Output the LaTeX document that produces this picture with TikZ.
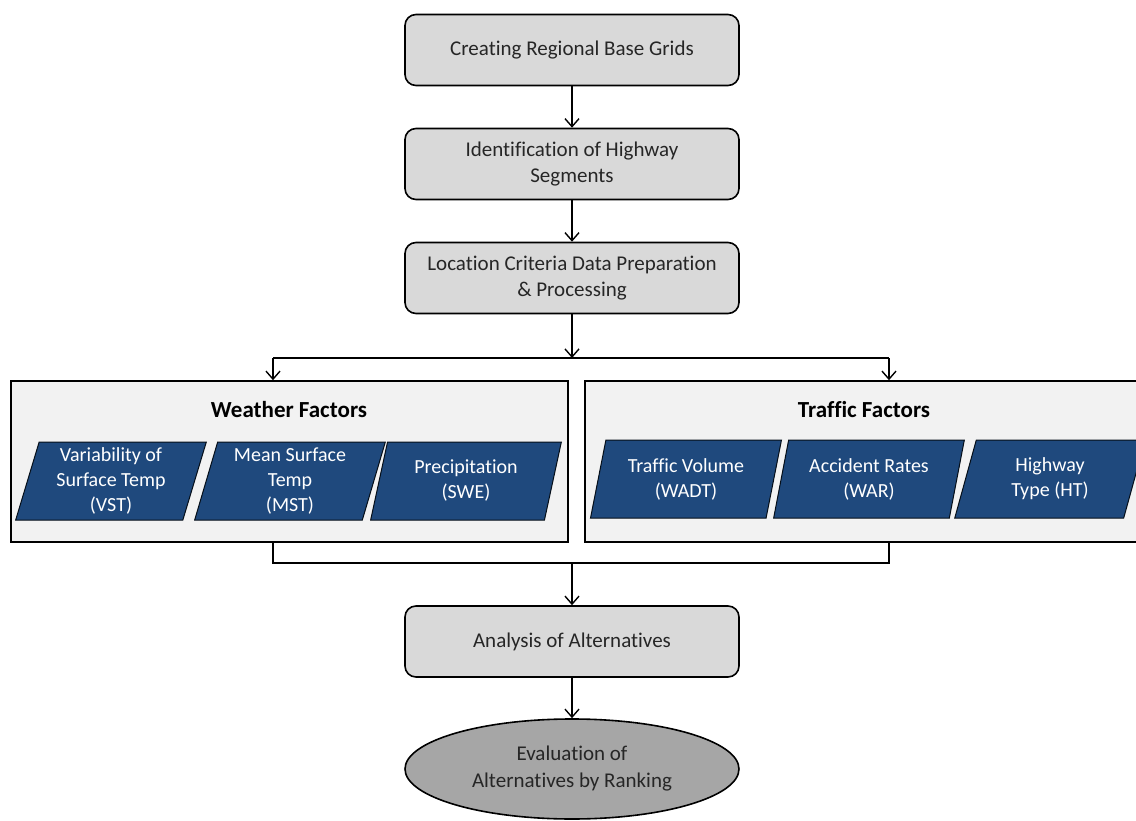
\documentclass[tikz,border=0pt]{standalone}
\usepackage{fontspec}
\setmainfont{Carlito}[Ligatures=NoCommon]
\usetikzlibrary{arrows.meta,shapes.geometric}
\definecolor{boxgray}{HTML}{D9D9D9}
\definecolor{panelgray}{HTML}{F2F2F2}
\definecolor{ellgray}{HTML}{A6A6A6}
\definecolor{navy}{HTML}{1F497D}
\definecolor{txt}{HTML}{262626}
\tikzset{
  stepbox/.style={draw=black, line width=1.6pt, fill=boxgray, rounded corners=11pt,
    minimum width=334pt, minimum height=71pt, align=center, text=txt,
    font=\fontsize{21}{26}\selectfont},
  panel/.style={draw=black, line width=1.6pt, fill=panelgray, minimum height=161pt},
  factor/.style={trapezium, trapezium left angle=75, trapezium right angle=105,
    trapezium stretches=true, minimum width=191pt, minimum height=78pt, inner sep=0pt,
    draw=black!80!navy, line width=1pt, fill=navy, text=white, align=center,
    font=\fontsize{20}{25}\selectfont},
  title/.style={font=\fontsize{23}{26}\selectfont\bfseries, text=black},
  endell/.style={ellipse, draw=black, line width=1.6pt, fill=ellgray, minimum width=334pt,
    minimum height=100pt, inner sep=0pt, align=center, text=txt,
    font=\fontsize{21}{27}\selectfont},
  conn/.style={line width=1.6pt, black},
  arr/.style={conn, -{Straight Barb[length=8pt,width=14pt,line width=1.4pt]}}
}
\begin{document}
\begin{tikzpicture}[x=1pt,y=-1pt]
\useasboundingbox (0,0) rectangle (1136,821);
\node[stepbox] (b1) at (572,50) {Creating Regional Base Grids};
\node[stepbox] (b2) at (572,164) {Identification of Highway\\Segments};
\node[stepbox] (b3) at (572,278) {Location Criteria Data Preparation\\\& Processing};
\node[panel, minimum width=557pt] (wf) at (289.5,461.5) {};
\node[panel, minimum width=560pt] (tf) at (865,461.5) {};
\node[title] (wt) at (289,410) {Weather Factors};
\node[title] (tt) at (864,410) {Traffic Factors};
\node[factor] (vst) at (111,481) {Variability of\\Surface Temp\\(VST)};
\node[factor] (mst) at (290,481) {Mean Surface\\Temp\\(MST)};
\node[factor] (swe) at (466,481) {Precipitation\\(SWE)};
\node[factor] (wadt) at (686,479) {Traffic Volume\\(WADT)};
\node[factor] (war) at (869,479) {Accident Rates\\(WAR)};
\node[factor] (ht) at (1050,479) {Highway\\Type (HT)};
\node[stepbox] (an) at (572,641.5) {Analysis of Alternatives};
\node[endell] (ev) at (572,769) {Evaluation of\\Alternatives by Ranking};
\coordinate (split) at (572,358);
\coordinate (sl) at (273,358);
\coordinate (sr) at (889,358);
\coordinate (jl) at (273,563);
\coordinate (jr) at (889,563);
\coordinate (jm) at (572,563);
\draw[arr] (b1) -- (b2);
\draw[arr] (b2) -- (b3);
\draw[arr] (b3) -- (split);
\draw[conn] (sl) -- (sr);
\draw[arr] (sl) -- (sl |- wf.north);
\draw[arr] (sr) -- (sr |- tf.north);
\draw[conn] (jl |- wf.south) -- (jl) -- (jr) -- (jr |- tf.south);
\draw[arr] (jm) -- (an);
\draw[arr] (an) -- (ev);
\end{tikzpicture}
\end{document}
